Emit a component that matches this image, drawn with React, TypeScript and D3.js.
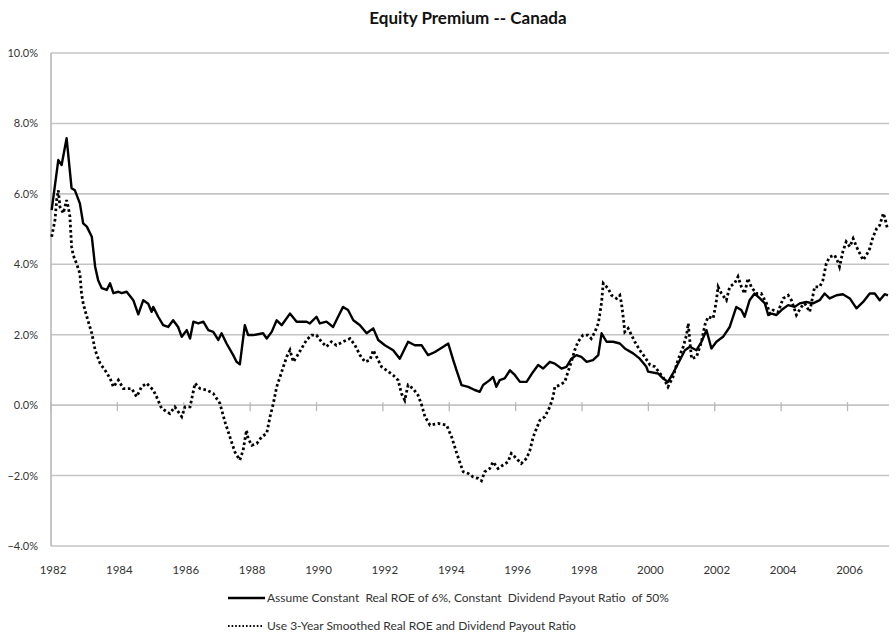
import React from "react";
import * as d3 from "d3";

const title = "Equity Premium -- Canada";
const legendLabels = [
  "Assume Constant  Real ROE of 6%, Constant  Dividend Payout Ratio  of 50%",
  "Use 3-Year Smoothed Real ROE and Dividend Payout Ratio",
];
const yTicks = [-4, -2, 0, 2, 4, 6, 8, 10];
const xTickYears = [1982, 1984, 1986, 1988, 1990, 1992, 1994, 1996, 1998, 2000, 2002, 2004, 2006];

// [year, equity premium %]
const constantRoe: [number, number][] = [
  [1982.02, 5.54], [1982.22, 6.96], [1982.32, 6.82], [1982.47, 7.58], [1982.62, 6.16],
  [1982.72, 6.1], [1982.87, 5.73], [1982.97, 5.16], [1983.08, 5.07], [1983.23, 4.78],
  [1983.33, 3.93], [1983.42, 3.55], [1983.53, 3.32], [1983.68, 3.27], [1983.78, 3.46],
  [1983.88, 3.18], [1984.03, 3.22], [1984.13, 3.18], [1984.28, 3.22], [1984.48, 2.98],
  [1984.63, 2.58], [1984.78, 2.98], [1984.93, 2.88], [1985.03, 2.65], [1985.08, 2.79],
  [1985.23, 2.51], [1985.38, 2.27], [1985.53, 2.22], [1985.68, 2.41], [1985.83, 2.22],
  [1985.94, 1.94], [1986.09, 2.13], [1986.19, 1.89], [1986.29, 2.37], [1986.44, 2.32],
  [1986.59, 2.37], [1986.74, 2.13], [1986.89, 2.08], [1987.04, 1.85], [1987.14, 2.04],
  [1987.29, 1.75], [1987.49, 1.42], [1987.59, 1.23], [1987.69, 1.16], [1987.84, 2.27],
  [1987.94, 1.99], [1988.09, 1.99], [1988.39, 2.04], [1988.5, 1.89], [1988.65, 2.08],
  [1988.8, 2.41], [1988.95, 2.27], [1989.2, 2.6], [1989.4, 2.37], [1989.7, 2.37],
  [1989.8, 2.32], [1990.0, 2.51], [1990.1, 2.32], [1990.3, 2.37], [1990.5, 2.22],
  [1990.65, 2.51], [1990.8, 2.79], [1990.95, 2.7], [1991.11, 2.41], [1991.31, 2.27],
  [1991.51, 2.04], [1991.71, 2.18], [1991.86, 1.85], [1992.06, 1.7], [1992.31, 1.56],
  [1992.51, 1.32], [1992.76, 1.8], [1992.96, 1.7], [1993.17, 1.7], [1993.36, 1.42],
  [1993.57, 1.51], [1993.82, 1.66], [1993.97, 1.75], [1994.12, 1.28], [1994.22, 0.99],
  [1994.37, 0.57], [1994.57, 0.52], [1994.77, 0.43], [1994.92, 0.38], [1995.02, 0.57],
  [1995.22, 0.71], [1995.32, 0.8], [1995.42, 0.52], [1995.52, 0.71], [1995.67, 0.76],
  [1995.83, 0.99], [1995.98, 0.85], [1996.13, 0.66], [1996.33, 0.66], [1996.53, 0.95],
  [1996.68, 1.14], [1996.83, 1.04], [1997.03, 1.23], [1997.18, 1.18], [1997.38, 1.04],
  [1997.53, 1.09], [1997.68, 1.32], [1997.83, 1.42], [1997.98, 1.37], [1998.14, 1.23],
  [1998.33, 1.28], [1998.49, 1.42], [1998.59, 2.04], [1998.74, 1.8], [1998.94, 1.8],
  [1999.14, 1.75], [1999.29, 1.61], [1999.54, 1.47], [1999.74, 1.32], [1999.94, 1.09],
  [1999.99, 0.95], [2000.29, 0.9], [2000.44, 0.76], [2000.59, 0.66], [2000.74, 0.9],
  [2000.95, 1.28], [2001.1, 1.56], [2001.25, 1.66], [2001.45, 1.56], [2001.6, 1.8],
  [2001.75, 2.13], [2001.9, 1.61], [2002.05, 1.8], [2002.25, 1.94], [2002.45, 2.22],
  [2002.65, 2.79], [2002.8, 2.7], [2002.9, 2.51], [2003.05, 2.98], [2003.2, 3.17],
  [2003.36, 3.03], [2003.51, 2.89], [2003.61, 2.56], [2003.71, 2.6], [2003.86, 2.56],
  [2004.01, 2.7], [2004.21, 2.84], [2004.41, 2.79], [2004.56, 2.89], [2004.76, 2.93],
  [2004.96, 2.89], [2005.16, 2.98], [2005.31, 3.17], [2005.46, 3.03], [2005.67, 3.12],
  [2005.86, 3.15], [2006.07, 3.03], [2006.27, 2.75], [2006.47, 2.93], [2006.67, 3.17],
  [2006.82, 3.17], [2006.97, 2.98], [2007.12, 3.15], [2007.22, 3.12],
];

const smoothedRoe: [number, number][] = [
  [1982.02, 4.78], [1982.12, 5.26], [1982.17, 5.82], [1982.22, 6.1], [1982.27, 5.63],
  [1982.37, 5.45], [1982.47, 5.82], [1982.52, 5.63], [1982.57, 5.35], [1982.62, 4.5],
  [1982.67, 4.26], [1982.77, 4.02], [1982.87, 3.74], [1982.92, 3.17], [1982.97, 2.89],
  [1983.08, 2.51], [1983.23, 2.04], [1983.33, 1.56], [1983.48, 1.18], [1983.63, 0.99],
  [1983.78, 0.76], [1983.88, 0.52], [1984.03, 0.71], [1984.18, 0.47], [1984.43, 0.47],
  [1984.58, 0.24], [1984.73, 0.52], [1984.88, 0.62], [1985.08, 0.43], [1985.18, 0.24],
  [1985.33, -0.09], [1985.58, -0.24], [1985.73, -0.05], [1985.94, -0.33], [1986.04, -0.05],
  [1986.19, -0.05], [1986.34, 0.62], [1986.49, 0.47], [1986.69, 0.43], [1986.89, 0.33],
  [1987.09, 0.05], [1987.24, -0.47], [1987.39, -0.9], [1987.54, -1.33], [1987.69, -1.56],
  [1987.79, -1.28], [1987.89, -0.71], [1987.94, -0.95], [1988.05, -1.14], [1988.2, -1.09],
  [1988.35, -0.9], [1988.5, -0.8], [1988.6, -0.33], [1988.7, 0.05], [1988.8, 0.52],
  [1988.9, 0.8], [1989.0, 1.09], [1989.1, 1.37], [1989.2, 1.56], [1989.3, 1.23],
  [1989.4, 1.37], [1989.55, 1.61], [1989.7, 1.85], [1989.85, 1.99], [1990.0, 1.99],
  [1990.15, 1.8], [1990.3, 1.66], [1990.45, 1.8], [1990.6, 1.7], [1990.8, 1.8],
  [1991.01, 1.89], [1991.16, 1.7], [1991.31, 1.42], [1991.46, 1.23], [1991.61, 1.28],
  [1991.71, 1.56], [1991.81, 1.37], [1991.96, 1.09], [1992.11, 0.99], [1992.31, 0.85],
  [1992.46, 0.71], [1992.56, 0.33], [1992.66, 0.14], [1992.76, 0.57], [1992.91, 0.47],
  [1993.06, 0.28], [1993.17, 0.0], [1993.27, -0.33], [1993.42, -0.57], [1993.67, -0.52],
  [1993.92, -0.57], [1994.07, -0.9], [1994.22, -1.35], [1994.32, -1.63], [1994.42, -1.89],
  [1994.57, -1.94], [1994.72, -2.04], [1994.87, -2.08], [1994.97, -2.15], [1995.07, -1.89],
  [1995.22, -1.8], [1995.32, -1.61], [1995.47, -1.8], [1995.62, -1.7], [1995.77, -1.61],
  [1995.87, -1.37], [1996.02, -1.51], [1996.17, -1.66], [1996.33, -1.51], [1996.43, -1.28],
  [1996.53, -0.9], [1996.63, -0.66], [1996.73, -0.43], [1996.88, -0.33], [1997.03, -0.05],
  [1997.13, 0.24], [1997.18, 0.52], [1997.33, 0.57], [1997.48, 0.66], [1997.58, 0.95],
  [1997.68, 1.23], [1997.78, 1.56], [1997.88, 1.8], [1998.03, 1.99], [1998.18, 1.99],
  [1998.28, 1.89], [1998.39, 2.08], [1998.49, 2.32], [1998.54, 2.6], [1998.59, 2.93],
  [1998.64, 3.46], [1998.79, 3.31], [1998.89, 3.12], [1999.04, 3.03], [1999.14, 3.12],
  [1999.19, 2.89], [1999.24, 2.51], [1999.29, 2.08], [1999.39, 2.18], [1999.49, 1.99],
  [1999.59, 1.8], [1999.74, 1.56], [1999.89, 1.37], [2000.05, 1.14], [2000.2, 1.09],
  [2000.35, 0.9], [2000.44, 0.8], [2000.59, 0.52], [2000.74, 0.8], [2000.89, 1.28],
  [2001.05, 1.66], [2001.15, 1.99], [2001.2, 2.32], [2001.3, 1.32], [2001.45, 1.37],
  [2001.6, 1.8], [2001.7, 2.27], [2001.8, 2.51], [2001.95, 2.46], [2002.0, 2.7],
  [2002.05, 2.98], [2002.1, 3.36], [2002.2, 3.17], [2002.35, 2.98], [2002.45, 3.36],
  [2002.6, 3.46], [2002.7, 3.65], [2002.8, 3.36], [2002.9, 3.17], [2003.0, 3.6],
  [2003.1, 3.36], [2003.25, 3.17], [2003.4, 3.17], [2003.56, 2.89], [2003.66, 2.6],
  [2003.76, 2.7], [2003.91, 2.65], [2004.06, 3.03], [2004.21, 3.12], [2004.31, 2.98],
  [2004.46, 2.56], [2004.61, 2.79], [2004.71, 2.89], [2004.86, 2.65], [2005.01, 3.36],
  [2005.16, 3.36], [2005.26, 3.55], [2005.36, 4.02], [2005.46, 4.21], [2005.61, 4.26],
  [2005.71, 4.07], [2005.76, 3.93], [2005.86, 4.36], [2005.96, 4.64], [2006.07, 4.5],
  [2006.17, 4.73], [2006.27, 4.5], [2006.37, 4.31], [2006.47, 4.12], [2006.57, 4.26],
  [2006.67, 4.45], [2006.77, 4.78], [2006.88, 5.02], [2006.97, 5.11], [2007.08, 5.45],
  [2007.13, 5.3], [2007.2, 5.02],
];

const W = 896;
const H = 635;
const plot = { left: 51, right: 889, top: 53, bottom: 546 };
const FONT = "Lato, 'Open Sans', sans-serif";

export default function App() {
  const x = d3.scaleLinear().domain([1982, 2007.25]).range([plot.left, plot.right]);
  const y = d3.scaleLinear().domain([-4, 10]).range([plot.bottom, plot.top]);
  const line = d3
    .line<[number, number]>()
    .x((d) => x(d[0]))
    .y((d) => y(d[1]))
    .curve(d3.curveLinear);
  const fmt = d3.format(".1f");
  const y0 = y(0);

  return (
    <div style={{ position: "absolute", left: 0, top: 0 }}>
      <svg width={W} height={H} style={{ display: "block", background: "#fff" }}>
        <rect width={W} height={H} fill="#fff" />
        <text
          x={468}
          y={24}
          textAnchor="middle"
          fontFamily={FONT}
          fontWeight="bold"
          fontSize={17}
          fill="#111"
        >
          {title}
        </text>
        {yTicks.map((t) => (
          <g key={t}>
            <line
              x1={plot.left}
              x2={plot.right}
              y1={y(t)}
              y2={y(t)}
              stroke="#c4c4c4"
              strokeWidth={1.6}
            />
            <text
              x={38}
              y={y(t) + 4}
              textAnchor="end"
              fontFamily={FONT}
              fontSize={11}
              fill="#333"
            >
              {fmt(t) + "%"}
            </text>
          </g>
        ))}
        <line
          x1={plot.left}
          x2={plot.left}
          y1={plot.top}
          y2={plot.bottom}
          stroke="#b8b8b8"
          strokeWidth={1.6}
        />
        {xTickYears.map((yr) => (
          <g key={yr}>
            <line
              x1={x(yr)}
              x2={x(yr)}
              y1={y0 - 3}
              y2={y0 + 6}
              stroke="#b8b8b8"
              strokeWidth={1.3}
            />
            <text
              x={x(yr) + 2}
              y={574}
              textAnchor="middle"
              fontFamily={FONT}
              fontSize={11.5}
              fill="#333"
            >
              {yr}
            </text>
          </g>
        ))}
        <path
          d={line(smoothedRoe) || ""}
          fill="none"
          stroke="#000"
          strokeWidth={2.8}
          strokeDasharray="2.6 2.6"
        />
        <path
          d={line(constantRoe) || ""}
          fill="none"
          stroke="#000"
          strokeWidth={2.4}
          strokeLinejoin="round"
        />
        <g fontFamily={FONT} fontSize={12} fill="#333" style={{ whiteSpace: "pre" }}>
          <line x1={228} x2={265} y1={598} y2={598} stroke="#000" strokeWidth={2.4} />
          <text x={267} y={602} xmlSpace="preserve">{legendLabels[0]}</text>
          <line
            x1={228}
            x2={263}
            y1={626}
            y2={626}
            stroke="#000"
            strokeWidth={1.8}
            strokeDasharray="1.6 2"
          />
          <text x={267} y={630} xmlSpace="preserve">{legendLabels[1]}</text>
        </g>
      </svg>
    </div>
  );
}
